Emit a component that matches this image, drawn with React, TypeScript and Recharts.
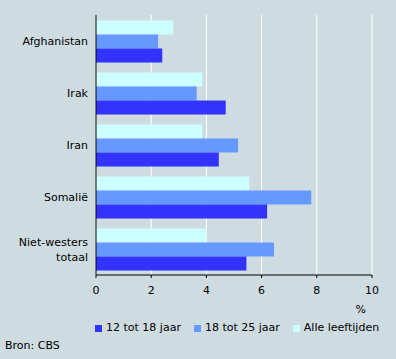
import { Bar, BarChart, CartesianGrid, Legend, XAxis, YAxis } from 'recharts'

const CATEGORIES = ['Afghanistan', 'Irak', 'Iran', 'Somalië', 'Niet-westers totaal']
const AGE_12_18 = [2.4, 4.7, 4.45, 6.2, 5.45]
const AGE_18_25 = [2.25, 3.65, 5.15, 7.8, 6.45]
const ALL_AGES = [2.8, 3.85, 3.85, 5.55, 4.0]
const X_TICKS = [0, 2, 4, 6, 8, 10]

const SERIES = [
  { key: 'age1218', label: '12 tot 18 jaar', color: '#3333ff' },
  { key: 'age1825', label: '18 tot 25 jaar', color: '#6699ff' },
  { key: 'all', label: 'Alle leeftijden', color: '#ccffff' },
]

const data = CATEGORIES.map((name, i) => ({
  name,
  age1218: AGE_12_18[i],
  age1825: AGE_18_25[i],
  all: ALL_AGES[i],
}))

const BG = '#cedbe1'
const FONT = '"DejaVu Sans", Verdana, sans-serif'

function CategoryTick({ x, y, payload }: any) {
  const words: string[] = String(payload.value).split(' ')
  const start = -((words.length - 1) * 15) / 2
  return (
    <text x={x} y={y} textAnchor="end" fill="#000" fontSize={11} fontFamily={FONT}>
      {words.map((w, i) => (
        <tspan key={i} x={x} y={y + start + i * 15 + 4}>
          {w}
        </tspan>
      ))}
    </text>
  )
}

function LegendBox() {
  return (
    <div style={{ width: 396, height: 40, fontFamily: FONT, fontSize: 11, color: '#000', whiteSpace: 'nowrap', textAlign: 'left' }}>
      <div style={{ height: 18, lineHeight: '18px', paddingLeft: 95, display: 'flex', alignItems: 'center' }}>
        {SERIES.map((s) => (
          <span key={s.key} style={{ display: 'inline-flex', alignItems: 'center', marginRight: 13, flexShrink: 0 }}>
            <span style={{ width: 7, height: 7, background: s.color, marginRight: 4, display: 'inline-block' }} />
            {s.label}
          </span>
        ))}
      </div>
      <div style={{ height: 18, lineHeight: '18px', paddingLeft: 5 }}>Bron: CBS</div>
    </div>
  )
}

export default function App() {
  return (
    <div style={{ position: 'absolute', left: 0, top: 0, width: 396, height: 359, background: BG, fontFamily: FONT }}>
      <BarChart
        width={396}
        height={359}
        data={data}
        layout="vertical"
        margin={{ top: 15, right: 24, bottom: 0, left: 0 }}
        barCategoryGap={5.5}
        barGap={0}
      >
        <CartesianGrid horizontal={false} stroke="#ffffff" />
        <XAxis
          type="number"
          domain={[0, 10]}
          ticks={X_TICKS}
          height={44}
          tickSize={3}
          tickMargin={8}
          axisLine={{ stroke: '#000' }}
          tickLine={{ stroke: '#000' }}
          tick={{ fill: '#000', fontSize: 11 }}
          label={{ value: '%', position: 'insideBottomRight', offset: 6, fill: '#000', fontSize: 11 }}
        />
        <XAxis
          xAxisId="top"
          orientation="top"
          type="number"
          domain={[0, 10]}
          height={0}
          tick={false}
          tickLine={false}
          axisLine={{ stroke: '#808080' }}
        />
        <YAxis
          type="category"
          dataKey="name"
          width={96}
          tickSize={0}
          tickMargin={8}
          tickLine={false}
          axisLine={{ stroke: '#000' }}
          tick={<CategoryTick />}
          interval={0}
        />
        <YAxis
          yAxisId="right"
          orientation="right"
          type="category"
          dataKey="name"
          width={0}
          tick={false}
          tickLine={false}
          axisLine={{ stroke: '#808080' }}
        />
        <Legend verticalAlign="bottom" content={() => <LegendBox />} />
        <Bar dataKey="all" fill="#ccffff" isAnimationActive={false} />
        <Bar dataKey="age1825" fill="#6699ff" isAnimationActive={false} />
        <Bar dataKey="age1218" fill="#3333ff" isAnimationActive={false} />
      </BarChart>
    </div>
  )
}
